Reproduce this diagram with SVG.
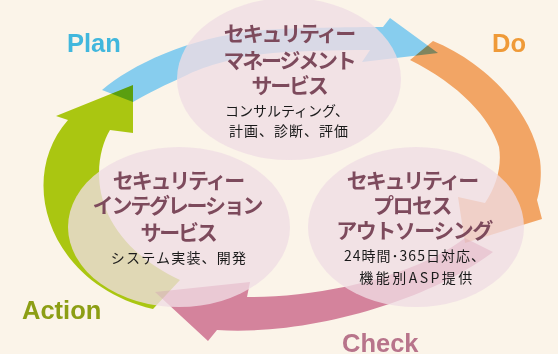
<svg xmlns="http://www.w3.org/2000/svg" width="558" height="354" viewBox="0 0 558 354">
<style>
.bg{fill:#FBF4E9}
.arrow{mix-blend-mode:multiply;stroke:none}
.blue{fill:#87CDEE}
.orange{fill:#F2A565}
.pink{fill:#D4839C}
.green{fill:#AAC611}
.node{fill:#F0DDE4;opacity:0.78}
.title{font-family:"Noto Sans CJK JP","Noto Sans",sans-serif;font-weight:700;font-size:21px;fill:#7D4A5C;text-anchor:middle;letter-spacing:-2.2px}
.sub{font-family:"Noto Sans CJK JP","Noto Sans",sans-serif;font-weight:400;font-size:14px;fill:#1A1A1A;text-anchor:middle}
.phase{font-family:"Liberation Sans",Arial,sans-serif;font-weight:700;font-size:25.5px}
</style>
<rect class="bg" x="0" y="0" width="558" height="354"/>
<g id="connectors" style="isolation:isolate">
  <path id="arrow-plan" class="arrow blue" d="M102,90 C135,62 200,32 280,29 C320,27.5 360,27 383,27 L390,18 L438,53 L362,62 L370,50 C330,50 300,51 273,53 C240,56 205,66 187,75 C165,85 148,93 133,102 Z"/>
  <path id="arrow-do" class="arrow orange" d="M433,41 C480,60 530,105 540,160 C542,175 540,190 537,200 L542,219 L465,243 L458,197 L485,203 C497,185 502,165 499,147 C490,118 460,85 410,60 Z"/>
  <path id="arrow-check" class="arrow pink" d="M465,238 C410,280 310,298 247,297 L250,282 L155,292 L208,341 L217,330 C310,336 430,300 493,252 Z"/>
  <path id="arrow-action" class="arrow green" d="M153,309 C50,285 15,180 68,120 L56,116 L133,85 L133,133 L110,130 C92,160 85,235 180,280 Z"/>
</g>
<g id="node-management">
  <ellipse class="node" cx="289" cy="79" rx="112" ry="81"/>
  <text class="title" x="289" y="41">セキュリティー</text>
  <text class="title" x="289" y="68">マネージメント</text>
  <text class="title" x="289" y="93">サービス</text>
  <text class="sub" x="287" y="116">コンサルティング、</text>
  <text class="sub" x="289" y="136" style="letter-spacing:1px">計画、診断、評価</text>
</g>
<g id="node-integration">
  <ellipse class="node" cx="179" cy="227" rx="111" ry="80"/>
  <text class="title" x="178" y="188">セキュリティー</text>
  <text class="title" x="177" y="213">インテグレーション</text>
  <text class="title" x="178" y="240">サービス</text>
  <text class="sub" x="179" y="263" style="letter-spacing:1.2px">システム実装、開発</text>
</g>
<g id="node-outsourcing">
  <ellipse class="node" cx="416" cy="227" rx="108" ry="80"/>
  <text class="title" x="412" y="188">セキュリティー</text>
  <text class="title" x="412" y="213" style="letter-spacing:-1.5px">プロセス</text>
  <text class="title" x="414" y="238" style="letter-spacing:-1.5px">アウトソーシング</text>
  <text class="sub" x="415" y="261" style="letter-spacing:1px">24時間･365日対応、</text>
  <text class="sub" x="417" y="283" style="letter-spacing:2.5px">機能別ASP提供</text>
</g>
<g id="phase-labels">
  <text class="phase" x="67" y="52" fill="#41B7DD">Plan</text>
  <text class="phase" x="492" y="52" fill="#EF9A38">Do</text>
  <text class="phase" x="342" y="352" fill="#B8748B">Check</text>
  <text class="phase" x="22" y="319" fill="#8C9E14">Action</text>
</g>
</svg>
